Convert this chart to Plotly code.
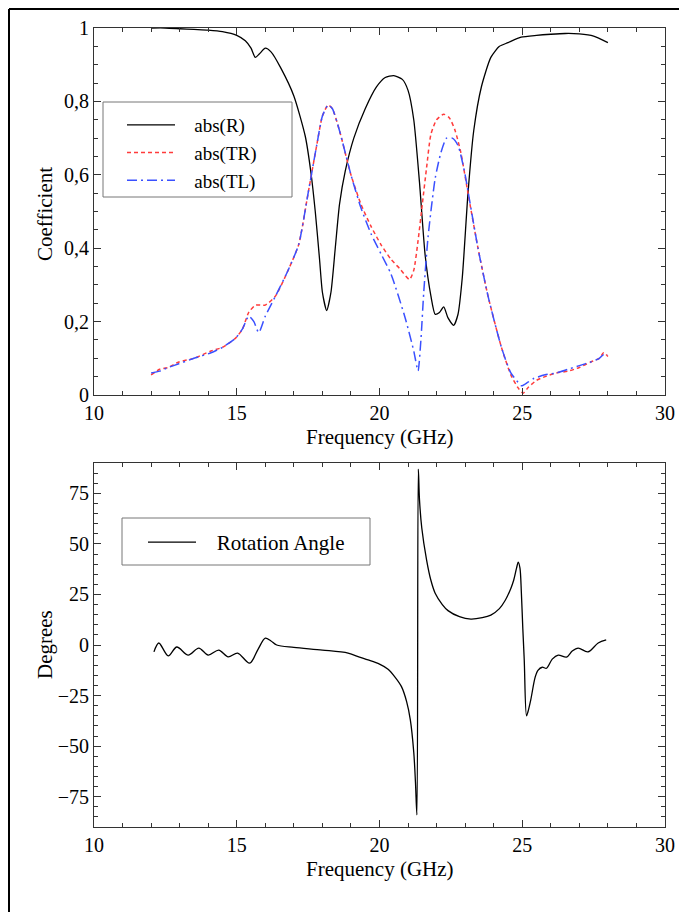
import plotly.graph_objects as go

# abs(R)
f_r = [12.0, 12.5, 13.0, 13.5, 14.0, 14.5, 15.0, 15.3, 15.5, 15.65, 15.8, 16.0, 16.2, 16.55,
       17.0, 17.4, 17.6, 17.75, 17.9, 18.0, 18.15, 18.3, 18.45, 18.6, 18.8, 19.1, 19.5, 19.9,
       20.2, 20.5, 20.8, 21.0, 21.2, 21.4, 21.6, 21.8, 21.95, 22.1, 22.25, 22.4, 22.6, 22.75,
       22.9, 23.1, 23.3, 23.57, 23.9, 24.2, 24.5, 24.96, 25.5, 26.0, 26.5, 27.0, 27.5, 28.0]
abs_r = [1.0, 1.0, 0.998, 0.996, 0.994, 0.99, 0.98, 0.965, 0.945, 0.92, 0.93, 0.945, 0.935, 0.89,
         0.815, 0.705, 0.605, 0.5, 0.37, 0.28, 0.23, 0.28, 0.4, 0.52, 0.61, 0.7, 0.78, 0.84,
         0.865, 0.87, 0.86, 0.83, 0.75, 0.58, 0.38, 0.27, 0.22, 0.225, 0.24, 0.21, 0.19, 0.22,
         0.32, 0.55, 0.72, 0.84, 0.92, 0.95, 0.96, 0.975, 0.98, 0.983, 0.985, 0.984, 0.978, 0.96]

# abs(TR)
f_tr = [12.0, 12.3, 12.6, 12.97, 13.5, 14.1, 14.5, 14.96, 15.2, 15.42, 15.66, 16.0, 16.36, 16.8,
        17.17, 17.5, 17.8, 18.0, 18.2, 18.35, 18.6, 19.0, 19.35, 19.7, 20.05, 20.4, 20.7, 21.05,
        21.2, 21.35, 21.5, 21.65, 21.8, 22.0, 22.25, 22.45, 22.65, 22.85, 23.1, 23.45, 23.8,
        24.27, 24.6, 24.85, 25.03, 25.2, 25.5, 25.8, 26.2, 26.6, 27.0, 27.4, 27.7, 27.85, 28.0]
abs_tr = [0.055, 0.07, 0.075, 0.09, 0.1, 0.12, 0.13, 0.155, 0.18, 0.225, 0.245, 0.245, 0.27, 0.34,
          0.41, 0.55, 0.68, 0.76, 0.79, 0.78, 0.72, 0.6, 0.52, 0.46, 0.41, 0.37, 0.345, 0.315,
          0.34, 0.42, 0.52, 0.62, 0.71, 0.75, 0.765, 0.755, 0.72, 0.66, 0.55, 0.4, 0.27,
          0.13, 0.055, 0.02, 0.005, 0.02, 0.04, 0.05, 0.06, 0.065, 0.075, 0.09, 0.1, 0.115, 0.105]

# abs(TL)
f_tl = [12.0, 12.3, 12.6, 12.97, 13.5, 14.1, 14.5, 14.96, 15.2, 15.42, 15.6, 15.77, 16.0, 16.36,
        16.8, 17.17, 17.5, 17.8, 18.0, 18.2, 18.35, 18.6, 19.0, 19.35, 19.7, 20.05, 20.4, 20.9,
        21.2, 21.35, 21.45, 21.55, 21.7, 21.95, 22.15, 22.35, 22.55, 22.75, 23.0, 23.1, 23.45,
        23.8, 24.27, 24.6, 24.85, 24.97, 25.2, 25.4, 25.8, 26.2, 26.6, 27.0, 27.4, 27.7, 27.85, 28.0]
abs_tl = [0.06, 0.065, 0.075, 0.085, 0.1, 0.115, 0.13, 0.155, 0.18, 0.215, 0.2, 0.17, 0.215, 0.27,
          0.34, 0.41, 0.55, 0.68, 0.76, 0.79, 0.78, 0.72, 0.6, 0.51, 0.44, 0.385, 0.33, 0.21,
          0.12, 0.066, 0.15, 0.28, 0.43, 0.59, 0.66, 0.70, 0.70, 0.68, 0.6, 0.555, 0.4,
          0.27, 0.13, 0.06, 0.035, 0.025, 0.035, 0.045, 0.055, 0.06, 0.07, 0.08, 0.09, 0.1, 0.11, 0.11]

# Rotation angle (degrees)
f_rot = [12.1, 12.27, 12.6, 12.9, 13.3, 13.67, 14.0, 14.37, 14.7, 15.03, 15.45, 15.75, 16.0, 16.2,
         16.4, 17.0, 18.0, 18.9, 19.3, 19.6, 20.0, 20.3, 20.55, 20.77, 20.95, 21.08, 21.2, 21.26,
         21.31, 21.36, 21.4, 21.48, 21.65, 21.8, 21.95, 22.2, 22.4, 22.8, 23.2, 23.6, 23.9, 24.2,
         24.4, 24.6, 24.7, 24.8, 24.86, 24.92, 24.97, 25.02, 25.07, 25.15, 25.2, 25.3, 25.45,
         25.55, 25.7, 25.85, 26.05, 26.26, 26.55, 26.75, 26.96, 27.3, 27.66, 27.94]
rot = [-3.4, 1.0, -5.4, -1.0, -5.0, -1.5, -5.0, -2.5, -5.9, -4.0, -9.0, -2.0, 3.4, 2.0,
       0.0, -1.2, -2.5, -4.0, -6.0, -7.4, -9.5, -12.0, -16.0, -20.6, -28.0, -37.0, -53.0, -68.0,
       -84.0, 87.0, 72.0, 58.0, 42.0, 32.0, 25.6, 20.0, 17.0, 14.0, 12.8, 13.5, 14.8, 18.0,
       22.0, 28.0, 32.0, 38.0, 41.0, 38.0, 25.6, 8.0, -7.5, -35.0, -33.0, -27.0, -16.0,
       -12.5, -11.0, -11.5, -7.0, -5.0, -6.0, -3.0, -1.5, -3.4, 1.0, 2.5]

FONT = "Liberation Serif"
W, H = 679, 912
PAD = "\u00a0\u00a0\u00a0"  # gap between legend line and label


def px_x(x):
    return x / W


def px_y(y):
    return (H - y) / H


fig = go.Figure()

fig.add_trace(go.Scatter(x=f_r, y=abs_r, name=PAD + "abs(R)", mode="lines", legend="legend",
                         line=dict(color="black", width=1.3, shape="spline", smoothing=0.6),
                         xaxis="x", yaxis="y"))
fig.add_trace(go.Scatter(x=f_tr, y=abs_tr, name=PAD + "abs(TR)", mode="lines", legend="legend",
                         line=dict(color="#ff3b3b", width=1.5, dash="4px,3px", shape="spline", smoothing=0.6),
                         xaxis="x", yaxis="y"))
fig.add_trace(go.Scatter(x=f_tl, y=abs_tl, name=PAD + "abs(TL)", mode="lines", legend="legend",
                         line=dict(color="#3a50ff", width=1.5, dash="10px,4px,2px,4px", shape="spline", smoothing=0.6),
                         xaxis="x", yaxis="y"))
fig.add_trace(go.Scatter(x=f_rot, y=rot, name=PAD + "Rotation Angle", mode="lines", legend="legend2",
                         line=dict(color="black", width=1.3, shape="spline", smoothing=0.9),
                         xaxis="x2", yaxis="y2"))

axis_common = dict(showline=True, linecolor="#333", linewidth=1, mirror="allticks",
                   ticks="inside", ticklen=7, tickcolor="#333", showgrid=False, zeroline=False,
                   automargin=False,
                   tickfont=dict(family=FONT, size=20, color="black"))
xdom = [px_x(94), px_x(665)]
title_font = dict(family=FONT, size=21, color="black")

fig.update_layout(
    width=W, height=H,
    margin=dict(l=0, r=0, t=0, b=0, autoexpand=False),
    paper_bgcolor="white", plot_bgcolor="white",
    separators=",.",
    font=dict(family=FONT, size=20, color="black"),
    xaxis=dict(domain=xdom, range=[10, 30], dtick=5, anchor="y",
               minor=dict(ticks="inside", dtick=1, ticklen=4, tickcolor="#333"), **axis_common),
    yaxis=dict(domain=[px_y(395), px_y(28)], range=[0, 1], dtick=0.2, anchor="x",
               minor=dict(ticks="inside", dtick=0.05, ticklen=4, tickcolor="#333"), **axis_common),
    xaxis2=dict(domain=xdom, range=[10, 30], dtick=5, anchor="y2",
                minor=dict(ticks="inside", dtick=1, ticklen=4, tickcolor="#333"), **axis_common),
    yaxis2=dict(domain=[px_y(827), px_y(463)], range=[-90, 90], dtick=25, tick0=0, anchor="x2",
                minor=dict(ticks="inside", dtick=5, ticklen=4, tickcolor="#333"), **axis_common),
    legend=dict(x=px_x(122), y=px_y(106), xanchor="left", yanchor="top",
                bgcolor="rgba(0,0,0,0)", borderwidth=0, itemwidth=48,
                font=dict(family=FONT, size=19)),
    legend2=dict(x=px_x(143), y=px_y(522), xanchor="left", yanchor="top",
                 bgcolor="rgba(0,0,0,0)", borderwidth=0, itemwidth=48,
                 font=dict(family=FONT, size=21)),
    shapes=[
        # outer frame
        dict(type="line", xref="paper", yref="paper", x0=px_x(9), x1=px_x(9), y0=0, y1=px_y(9),
             line=dict(color="black", width=2)),
        dict(type="line", xref="paper", yref="paper", x0=px_x(9), x1=1, y0=px_y(9), y1=px_y(9),
             line=dict(color="black", width=2)),
        # legend boxes
        dict(type="rect", xref="paper", yref="paper", x0=px_x(103), x1=px_x(292),
             y0=px_y(197), y1=px_y(102), line=dict(color="#777", width=1)),
        dict(type="rect", xref="paper", yref="paper", x0=px_x(122), x1=px_x(370),
             y0=px_y(565), y1=px_y(518), line=dict(color="#777", width=1)),
    ],
    annotations=[
        dict(text="Coefficient", x=px_x(45), y=px_y(214), textangle=-90),
        dict(text="Degrees", x=px_x(45), y=px_y(645), textangle=-90),
        dict(text="Frequency (GHz)", x=px_x(380), y=px_y(437)),
        dict(text="Frequency (GHz)", x=px_x(380), y=px_y(869)),
    ],
)
fig.update_annotations(xref="paper", yref="paper", xanchor="center", yanchor="middle",
                       showarrow=False, font=title_font)

# page body has a default margin; drop it so the figure sits at the window origin
fig.write_html("out.html", config={"displayModeBar": False},
               post_script="document.body.style.margin='0px';")
